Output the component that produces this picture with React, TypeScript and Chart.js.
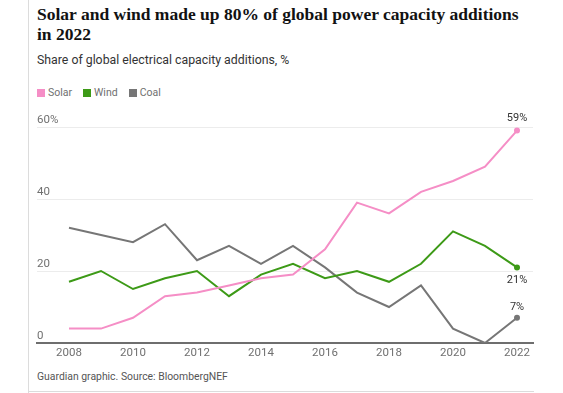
import React, { useEffect, useRef } from "react";
import { Chart, registerables } from "chart.js";

Chart.register(...registerables);

const years = [2008, 2009, 2010, 2011, 2012, 2013, 2014, 2015, 2016, 2017, 2018, 2019, 2020, 2021, 2022];
const solar = [4, 4, 7, 13, 14, 16, 18, 19, 26, 39, 36, 42, 45, 49, 59];
const wind = [17, 20, 15, 18, 20, 13, 19, 22, 18, 20, 17, 22, 31, 27, 21];
const coal = [32, 30, 28, 33, 23, 27, 22, 27, 21, 14, 10, 16, 4, 0, 7];
const xTicks = [2008, 2010, 2012, 2014, 2016, 2018, 2020, 2022];
const yTicks = [0, 20, 40, 60];
const seriesNames = ["Solar", "Wind", "Coal"];
const endLabels = ["59%", "21%", "7%"];

const COLORS = ["#f58ec6", "#3d9a17", "#767676"];
const LABEL_DY = [-12, 13, -11];

const FONT = "Roboto, 'Liberation Sans', sans-serif";

export default function App() {
  const ref = useRef<HTMLCanvasElement | null>(null);

  useEffect(() => {
    if (!ref.current) return;
    const seriesData = [solar, wind, coal];
    const endLabelPlugin = {
      id: "endLabels",
      afterDatasetsDraw(chart: any) {
        const ctx = chart.ctx;
        ctx.save();
        ctx.font = `11px ${FONT}`;
        ctx.fillStyle = "#333333";
        ctx.textAlign = "center";
        ctx.textBaseline = "middle";
        chart.data.datasets.forEach((ds: any, i: number) => {
          const meta = chart.getDatasetMeta(i);
          const pt = meta.data[meta.data.length - 1];
          if (!pt) return;
          ctx.fillText(endLabels[i], pt.x, pt.y + LABEL_DY[i]);
        });
        ctx.restore();
      },
    };
    const chart = new Chart(ref.current, {
      type: "line",
      data: {
        datasets: seriesData.map((vals, i) => ({
          label: seriesNames[i],
          data: years.map((y, j) => ({ x: y, y: vals[j] })),
          borderColor: COLORS[i],
          backgroundColor: COLORS[i],
          borderWidth: 2,
          tension: 0,
          pointRadius: (c: any) => (c.dataIndex === years.length - 1 ? 3 : 0),
          pointHoverRadius: 0,
          pointBorderWidth: 0,
        })),
      },
      options: {
        animation: false,
        responsive: false,
        events: [],
        layout: { padding: { left: 37, right: 30, top: 22, bottom: 7 } },
        plugins: {
          legend: { display: false },
          tooltip: { enabled: false },
          title: { display: false },
        },
        scales: {
          x: {
            type: "linear",
            min: 2007,
            max: 2022.5,
            afterBuildTicks: (scale: any) => {
              scale.ticks = xTicks.map((v) => ({ value: v }));
            },
            afterFit: (scale: any) => {
              scale.height = 20;
            },
            grid: { display: false, drawTicks: false },
            border: { display: true, color: "#6e6e6e", width: 2 },
            ticks: {
              color: "#707070",
              font: { family: FONT, size: 11.5 },
              padding: 3,
              maxRotation: 0,
              autoSkip: false,
              callback: (v: any) => String(v),
            },
          },
          y: {
            min: 0,
            max: 60,
            afterBuildTicks: (scale: any) => {
              scale.ticks = yTicks.map((v) => ({ value: v }));
            },
            afterFit: (scale: any) => {
              scale.width = 0;
            },
            grid: { color: "#ececec", lineWidth: 1, drawTicks: false },
            border: { display: false },
            ticks: {
              mirror: true,
              padding: 0,
              labelOffset: -7,
              color: "#707070",
              font: { family: FONT, size: 11.5 },
              callback: (v: any) => (v === 60 ? "60%" : String(v)),
            },
          },
        },
      },
      plugins: [endLabelPlugin],
    });
    return () => chart.destroy();
  }, []);

  return (
    <div
      style={{
        position: "absolute",
        left: 0,
        top: 0,
        width: 563,
        height: 393,
        background: "#fff",
        overflow: "hidden",
        fontFamily: FONT,
      }}
    >
      <div style={{ position: "absolute", left: 28, top: 0, width: 1, height: 393, background: "#dcdcdc" }} />
      <div style={{ position: "absolute", left: 28, top: 391, width: 506, height: 1, background: "#dcdcdc" }} />
      <div
        style={{
          position: "absolute",
          left: 37,
          top: 4,
          fontFamily: "'Liberation Serif', serif",
          fontWeight: 700,
          fontSize: 17.5,
          lineHeight: "20px",
          color: "#121212",
          whiteSpace: "nowrap",
        }}
      >
        Solar and wind made up 80% of global power capacity additions
        <br />
        in 2022
      </div>
      <div style={{ position: "absolute", left: 37, top: 53, fontSize: 12.3, color: "#333", whiteSpace: "nowrap" }}>
        Share of global electrical capacity additions, %
      </div>
      <div style={{ position: "absolute", left: 37, top: 86, display: "flex", fontSize: 10.5, color: "#707070" }}>
        {seriesNames.map((n, i) => (
          <div key={n} style={{ display: "flex", alignItems: "center", marginRight: 11 }}>
            <span style={{ width: 8, height: 8, background: COLORS[i], display: "inline-block", marginRight: 3 }} />
            <span>{n}</span>
          </div>
        ))}
      </div>
      <canvas ref={ref} width={563} height={265} style={{ position: "absolute", left: 0, top: 105 }} />
      <div style={{ position: "absolute", left: 37, top: 370, fontSize: 10.4, color: "#555", whiteSpace: "nowrap" }}>
        Guardian graphic. Source: BloombergNEF
      </div>
    </div>
  );
}
